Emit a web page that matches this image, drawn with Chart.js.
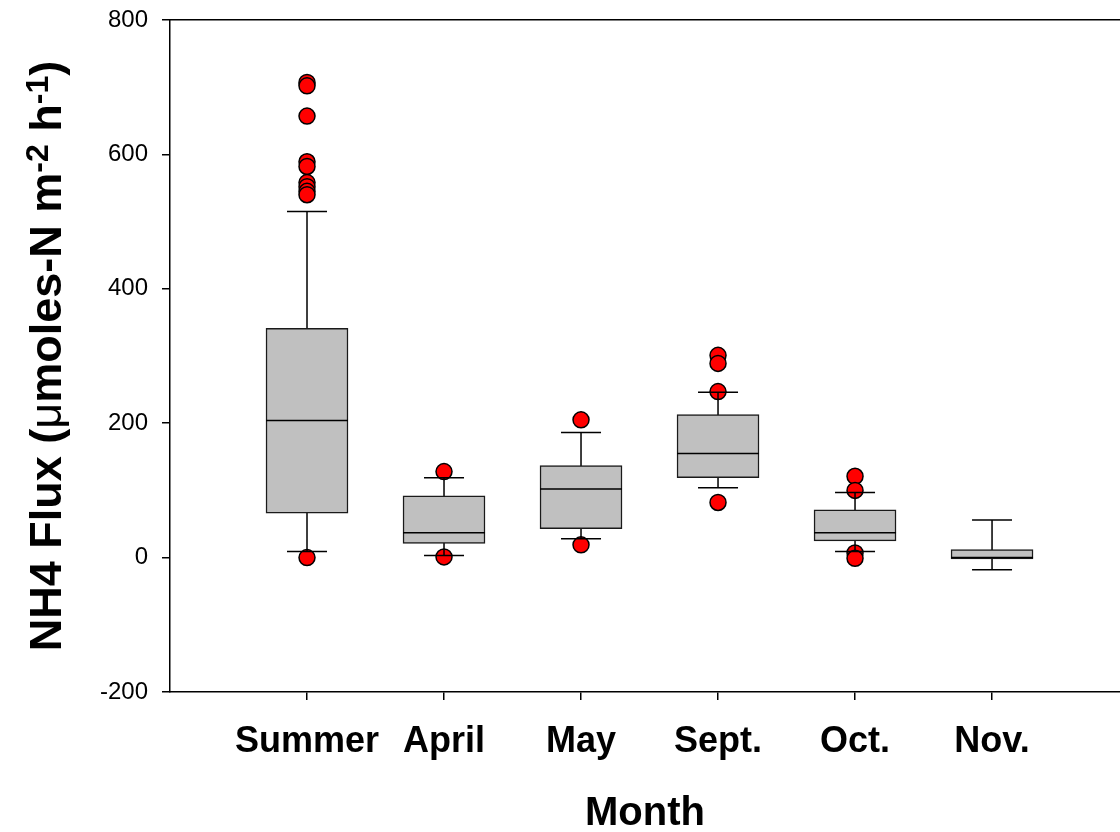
<!DOCTYPE html>
<html>
<head>
<meta charset="utf-8">
<title>NH4 Flux by Month</title>
<script src="https://cdn.jsdelivr.net/npm/chart.js@4.4.1/dist/chart.umd.min.js"></script>
<style>
  html, body { margin: 0; padding: 0; background: #ffffff; overflow: hidden; }
  canvas { display: block; }
</style>
</head>
<body>
<canvas id="chart" width="1120" height="832"></canvas>
<script>
// Box-plot summaries of NH4 flux for each sampling month
const categories     = ['Summer', 'April', 'May', 'Sept.', 'Oct.', 'Nov.'];
const lowerWhisker   = [9, 3, 28, 104, 9, -18];
const lowerQuartile  = [66, 21, 43, 119, 25, -2];
const medianValue    = [204, 37, 102, 155, 37, 0];
const upperQuartile  = [341, 92, 137, 213, 71, 12];
const upperWhisker   = [515, 119, 186, 246, 97, 56];
const outlierValues  = [
  [707, 702, 657, 589, 582, 558, 552, 545, 540, 0],
  [128, 1],
  [205, 19],
  [301, 289, 247, 82],
  [121, 100, 7, -1],
  []
];
const yTicks = [-200, 0, 200, 400, 600, 800];

// y-axis title pieces: normal text, Greek mu, superscripts
const yTitleParts = [
  { text: 'NH4 Flux (', kind: 'bold' },
  { text: '\u03BC', kind: 'greek' },
  { text: 'moles-N m', kind: 'bold' },
  { text: '-2', kind: 'sup' },
  { text: ' h', kind: 'bold' },
  { text: '-1', kind: 'sup' },
  { text: ')', kind: 'bold' }
];
const xTitle = 'Month';

const FONT = "'Liberation Sans', Arial, Helvetica, sans-serif";
const positions = categories.map((_, i) => i + 1);

// Datasets built from the arrays above
const boxData = positions.map((x, i) => ({ x, y: [lowerQuartile[i], upperQuartile[i]] }));
const medianData = positions.map((x, i) => ({ x, y: medianValue[i] }));
const capData = [];
const whiskerData = [];
positions.forEach((x, i) => {
  capData.push({ x, y: lowerWhisker[i] }, { x, y: upperWhisker[i] });
  whiskerData.push({ x, y: lowerWhisker[i] }, { x, y: upperWhisker[i] }, { x, y: null });
});
const outlierData = [];
positions.forEach((x, i) => outlierValues[i].forEach(v => outlierData.push({ x, y: v })));

const yTitlePlugin = {
  id: 'yTitle',
  afterDraw(chart) {
    const ctx = chart.ctx;
    const area = chart.chartArea;
    const fonts = {
      bold: 'bold 45px ' + FONT,
      greek: 'normal 45px ' + FONT,
      sup: 'bold 32px ' + FONT
    };
    ctx.save();
    let total = 0;
    yTitleParts.forEach(p => { ctx.font = fonts[p.kind]; total += ctx.measureText(p.text).width; });
    ctx.translate(61, (area.top + area.bottom) / 2);
    ctx.rotate(-Math.PI / 2);
    ctx.fillStyle = '#000000';
    ctx.textBaseline = 'alphabetic';
    ctx.textAlign = 'left';
    let x = -total / 2;
    yTitleParts.forEach(p => {
      ctx.font = fonts[p.kind];
      ctx.fillText(p.text, x, p.kind === 'sup' ? -13 : 0);
      x += ctx.measureText(p.text).width;
    });
    ctx.restore();
  }
};

new Chart(document.getElementById('chart'), {
  type: 'bar',
  data: {
    datasets: [
      {
        type: 'bar',
        data: boxData,
        backgroundColor: '#c0c0c0',
        borderColor: '#1a1a1a',
        borderWidth: 1.5,
        borderSkipped: false,
        barThickness: 82,
        order: 3
      },
      {
        type: 'line',
        data: whiskerData,
        borderColor: '#000000',
        borderWidth: 1.5,
        pointRadius: 0,
        spanGaps: false,
        fill: false,
        order: 4
      },
      {
        type: 'scatter',
        data: capData,
        pointStyle: 'line',
        pointRadius: 20,
        borderColor: '#000000',
        borderWidth: 1.5,
        order: 2
      },
      {
        type: 'scatter',
        data: medianData,
        pointStyle: 'line',
        pointRadius: 41,
        borderColor: '#000000',
        borderWidth: 1.5,
        order: 1
      },
      {
        type: 'scatter',
        data: outlierData,
        pointStyle: 'circle',
        pointRadius: 8,
        backgroundColor: '#ff0000',
        borderColor: '#000000',
        borderWidth: 1.5,
        order: 5
      }
    ]
  },
  options: {
    responsive: false,
    animation: false,
    devicePixelRatio: 1,
    layout: { autoPadding: false, padding: { top: 20, right: 0, bottom: 0, left: 0 } },
    plugins: { legend: { display: false }, tooltip: { enabled: false } },
    scales: {
      x: {
        type: 'linear',
        position: 'bottom',
        offset: false,
        min: 0,
        max: 6.934,
        afterBuildTicks(scale) { scale.ticks = positions.map(v => ({ value: v })); },
        afterFit(scale) { scale.height = 140; },
        grid: { offset: false, drawOnChartArea: false, drawTicks: true, tickLength: 8, color: '#000000', lineWidth: 1.5 },
        border: { display: true, color: '#000000', width: 1.5 },
        ticks: {
          autoSkip: false,
          maxRotation: 0,
          padding: 20,
          color: '#000000',
          font: { family: FONT, size: 36, weight: 'bold' },
          callback: (v) => categories[Math.round(v) - 1] || ''
        },
        title: {
          display: true,
          text: xTitle,
          color: '#000000',
          font: { family: FONT, size: 40, weight: 'bold', lineHeight: 1 },
          padding: { top: 0, bottom: -2 }
        }
      },
      xTop: {
        type: 'linear',
        position: 'top',
        offset: false,
        min: 0,
        max: 6.934,
        afterFit(scale) { scale.height = 0; },
        grid: { offset: false, drawOnChartArea: false, drawTicks: false },
        border: { display: true, color: '#000000', width: 1.5 },
        ticks: { display: false }
      },
      y: {
        type: 'linear',
        min: -200,
        max: 800,
        afterBuildTicks(scale) { scale.ticks = yTicks.map(v => ({ value: v })); },
        afterFit(scale) {
          scale.width = 170;
          scale.paddingTop = 0;
          scale.paddingBottom = 0;
        },
        grid: { drawOnChartArea: false, drawTicks: true, tickLength: 8, color: '#000000', lineWidth: 1.5 },
        border: { display: true, color: '#000000', width: 1.5 },
        ticks: {
          padding: 14,
          color: '#000000',
          font: { family: FONT, size: 24 }
        }
      }
    }
  },
  plugins: [yTitlePlugin]
});
</script>
</body>
</html>
